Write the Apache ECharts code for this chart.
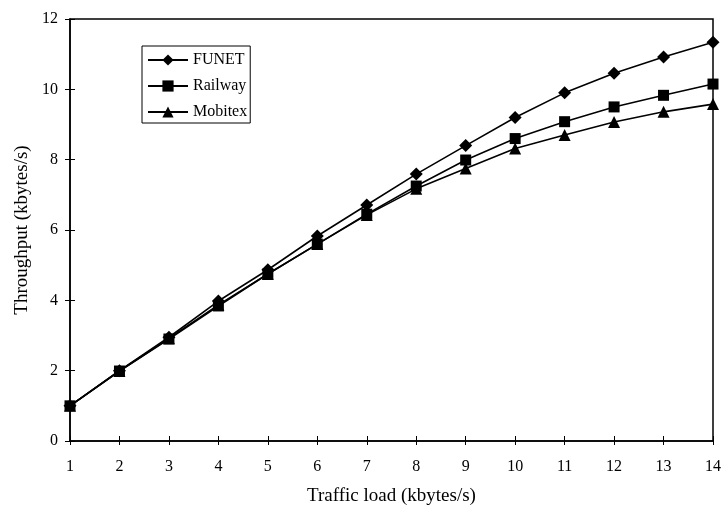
<!DOCTYPE html>
<html>
<head>
<meta charset="utf-8">
<script src="https://cdn.jsdelivr.net/npm/echarts@6/dist/echarts.min.js"></script>
<style>
  html, body { margin: 0; padding: 0; background: #fff; }
  #chart { width: 723px; height: 507px; }
</style>
</head>
<body>
<div id="chart"></div>
<script>
var load = [1, 2, 3, 4, 5, 6, 7, 8, 9, 10, 11, 12, 13, 14];
var funet = [1.0, 2.0, 2.95, 3.98, 4.87, 5.83, 6.71, 7.59, 8.4, 9.2, 9.9, 10.46, 10.92, 11.34];
var railway = [1.0, 1.99, 2.9, 3.84, 4.75, 5.6, 6.45, 7.25, 7.99, 8.6, 9.08, 9.5, 9.83, 10.15];
var mobitex = [1.0, 1.99, 2.92, 3.87, 4.75, 5.6, 6.43, 7.17, 7.75, 8.32, 8.7, 9.07, 9.36, 9.58];

function pairs(ys) {
  return load.map(function (x, i) { return [x, ys[i]]; });
}

var chart = echarts.init(document.getElementById('chart'));
var font = 'Liberation Serif';
var lineSeries = function (name, ys, symbol, size) {
  return {
    name: name,
    type: 'line',
    data: pairs(ys),
    symbol: symbol,
    symbolSize: size,
    showSymbol: true,
    color: '#000',
    lineStyle: { color: '#000', width: 1.6 },
    itemStyle: { color: '#000' },
    animation: false
  };
};

// second pair of axes only draws the inner half of the crossing ticks
var innerAxis = {
  axisLine: { show: false },
  axisLabel: { show: false },
  axisTick: { inside: true, length: 5, lineStyle: { color: '#000' } },
  splitLine: { show: false }
};

var option = {
  backgroundColor: '#fff',
  grid: {
    left: 70, right: 10, top: 19, bottom: 66,
    outerBoundsMode: 'none', containLabel: false,
    show: true, borderColor: '#000', borderWidth: 1.5
  },
  legend: {
    left: 142, top: 46,
    orient: 'vertical',
    itemWidth: 40, itemHeight: 14, itemGap: 10,
    padding: [6, 3, 3, 5],
    borderColor: '#000', borderWidth: 1,
    textStyle: { fontFamily: font, fontSize: 16, color: '#000' },
    data: ['FUNET', 'Railway', 'Mobitex']
  },
  xAxis: [{
    type: 'value', min: 1, max: 14, interval: 1,
    name: 'Traffic load (kbytes/s)', nameLocation: 'middle', nameGap: 46,
    nameTextStyle: { fontFamily: font, fontSize: 19, color: '#000' },
    axisLine: { lineStyle: { color: '#000', width: 1.5 } },
    axisTick: { inside: false, length: 4, lineStyle: { color: '#000' } },
    axisLabel: { fontFamily: font, fontSize: 16, color: '#000', margin: 18 },
    splitLine: { show: false }
  }, Object.assign({ type: 'value', min: 1, max: 14, interval: 1, position: 'bottom' }, innerAxis)],
  yAxis: [{
    type: 'value', min: 0, max: 12, interval: 2,
    name: 'Throughput (kbytes/s)', nameLocation: 'middle', nameGap: 37,
    nameTextStyle: { fontFamily: font, fontSize: 19, color: '#000' },
    axisLine: { show: true, lineStyle: { color: '#000', width: 1.5 } },
    axisTick: { show: true, length: 5, lineStyle: { color: '#000' } },
    axisLabel: { fontFamily: font, fontSize: 16, color: '#000', margin: 12 },
    splitLine: { show: false }
  }, Object.assign({ type: 'value', min: 0, max: 12, interval: 2, position: 'left' }, innerAxis)],
  series: [
    lineSeries('FUNET', funet, 'diamond', 13),
    lineSeries('Railway', railway, 'rect', 11),
    lineSeries('Mobitex', mobitex, 'triangle', 12)
  ]
};
chart.setOption(option);
</script>
</body>
</html>
